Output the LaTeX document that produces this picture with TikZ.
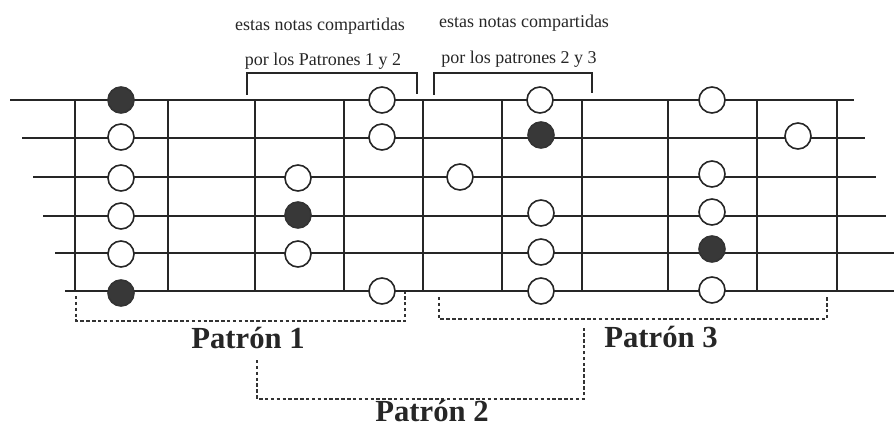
\documentclass[tikz,border=0pt]{standalone}
\usepackage{fontspec}
\setmainfont{Liberation Serif}

\tikzset{every picture/.style={line width=0.75pt}}
\tikzset{
  cuerda/.style={color=black!85, line width=1pt},
  traste/.style={color=black!85, line width=1.1pt},
  notaab/.style={circle, draw=black!85, fill=white, line width=1.2pt, minimum size=19.5pt, inner sep=0pt},
  notall/.style={circle, draw=black!80, fill=black!78, line width=1.2pt, minimum size=19.5pt, inner sep=0pt},
  corchete/.style={color=black!85, line width=1pt},
  patron/.style={color=black!80, line width=1pt, dash pattern={on 2.6pt off 1.8pt}},
  rotulo/.style={anchor=base, inner sep=0pt, text=black!85, font=\fontsize{13.5}{15}\selectfont},
  titulo/.style={anchor=base, inner sep=0pt, text=black!85, font=\fontsize{23}{25}\selectfont\bfseries}
}

\begin{document}
\begin{tikzpicture}[x=0.75pt,y=0.75pt,yscale=-1,xscale=1]
\useasboundingbox (0,0) rectangle (894,428);
%Straight Lines: cuerdas
\draw [cuerda]  (10,100) -- (854,100) ;
\draw [cuerda]  (22,138) -- (865,138) ;
\draw [cuerda]  (33,177) -- (876,177) ;
\draw [cuerda]  (43,216) -- (886,216) ;
\draw [cuerda]  (55,253) -- (894,253) ;
\draw [cuerda]  (65,291) -- (894,291) ;
%Straight Lines: trastes
\draw [traste]  (75,100) -- (75,292) ;
\draw [traste]  (168,100) -- (168,292) ;
\draw [traste]  (255,100) -- (255,292) ;
\draw [traste]  (344,100) -- (344,292) ;
\draw [traste]  (423,100) -- (423,292) ;
\draw [traste]  (502,100) -- (502,292) ;
\draw [traste]  (582,100) -- (582,292) ;
\draw [traste]  (668,100) -- (668,292) ;
\draw [traste]  (757,100) -- (757,292) ;
\draw [traste]  (837,100) -- (837,292) ;
%Shape: Circle -- cuerda 1
\node [notall] (c1a) at (121,100) {};
\node [notaab] (c1b) at (382,100) {};
\node [notaab] (c1c) at (540,100) {};
\node [notaab] (c1d) at (712,100) {};
%Shape: Circle -- cuerda 2
\node [notaab] (c2a) at (121,137) {};
\node [notaab] (c2b) at (382,137) {};
\node [notall] (c2c) at (541,135) {};
\node [notaab] (c2d) at (798,136) {};
%Shape: Circle -- cuerda 3
\node [notaab] (c3a) at (121,178) {};
\node [notaab] (c3b) at (298,178) {};
\node [notaab] (c3c) at (460,177) {};
\node [notaab] (c3d) at (712,174) {};
%Shape: Circle -- cuerda 4
\node [notaab] (c4a) at (121,216) {};
\node [notall] (c4b) at (298,215) {};
\node [notaab] (c4c) at (541,213) {};
\node [notaab] (c4d) at (712,212) {};
%Shape: Circle -- cuerda 5
\node [notaab] (c5a) at (121,254) {};
\node [notaab] (c5b) at (298,254) {};
\node [notaab] (c5c) at (541,252) {};
\node [notall] (c5d) at (712,249) {};
%Shape: Circle -- cuerda 6
\node [notall] (c6a) at (121,293) {};
\node [notaab] (c6b) at (382,291) {};
\node [notaab] (c6c) at (541,291) {};
\node [notaab] (c6d) at (712,290) {};
%Straight Lines: corchetes de notas compartidas
\coordinate (k1l) at (247,95);
\coordinate (k1r) at (417,94);
\coordinate (k2l) at (434,95);
\coordinate (k2r) at (592,93);
\draw [corchete]  (k1l) -- ++(0,-22) -| (k1r) ;
\draw [corchete]  (k2l) -- ++(0,-22) -| (k2r) ;
%Straight Lines: patrones
\coordinate (p1l) at (76,296);
\coordinate (p1r) at (405,292);
\coordinate (p2l) at (257,360);
\coordinate (p2r) at (584,328);
\coordinate (p3l) at (439,297);
\coordinate (p3r) at (827,296);
\draw [patron]  (p1l) -- ++(0,25) -| (p1r) ;
\draw [patron]  (p3l) -- ++(0,22) -| (p3r) ;
\draw [patron]  (p2l) -- ++(0,39) -| (p2r) ;
% Text Node
\node [rotulo] (t1a) at (320,31) {estas notas compartidas};
\node [rotulo] (t1b) at (323,66) {por los Patrones 1 y 2};
\node [rotulo] (t2a) at (524,28) {estas notas compartidas};
\node [rotulo] (t2b) at (519,64) {por los patrones 2 y 3};
% Text Node
\node [titulo] (n1) at (248,348) {Patrón 1};
\node [titulo] (n3) at (661,347) {Patrón 3};
\node [titulo] (n2) at (432,421) {Patrón 2};
\end{tikzpicture}
\end{document}
